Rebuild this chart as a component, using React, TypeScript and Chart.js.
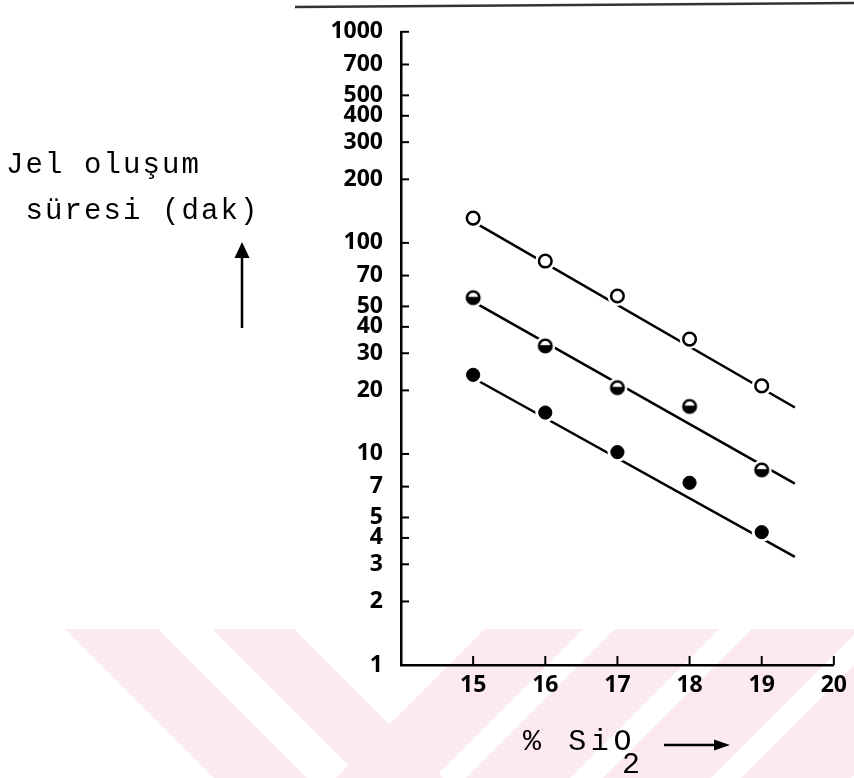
import React, { useEffect, useRef } from 'react';
import { Chart, registerables } from 'chart.js';

Chart.register(...registerables);

// ---- data ----
const SIO2_PERCENT = [15, 16, 17, 18, 19];
const OPEN_TIMES = [131, 82, 56, 35, 21];
const HALF_TIMES = [55, 32.5, 20.6, 16.8, 8.4];
const FILLED_TIMES = [23.7, 15.7, 10.2, 7.3, 4.26];

const FIT_SIO2 = [15, 19.46];
const OPEN_FIT = [126, 16.6];
const HALF_FIT = [52.7, 7.23];
const FILLED_FIT = [22.9, 3.25];

const Y_TICKS = [1, 2, 3, 4, 5, 7, 10, 20, 30, 40, 50, 70, 100, 200, 300, 400, 500, 700, 1000];
const X_TICKS = [15, 16, 17, 18, 19, 20];
const X_MIN = 14;
const X_MAX = 20;
const Y_MIN = 1;
const Y_MAX = 1000;

function pts(xs: number[], ys: number[]) {
  return xs.map((x, i) => ({ x, y: ys[i] }));
}

function makeHalfMarker() {
  const c = document.createElement('canvas');
  c.width = 18;
  c.height = 18;
  const g = c.getContext('2d') as CanvasRenderingContext2D;
  const cx = 9, cy = 9, r = 6.3;
  g.beginPath();
  g.arc(cx, cy, r, 0, Math.PI * 2);
  g.fillStyle = '#fff';
  g.fill();
  g.save();
  g.beginPath();
  g.arc(cx, cy, r, 0, Math.PI * 2);
  g.clip();
  g.fillStyle = '#000';
  g.fillRect(0, cy - 0.8, 18, 18);
  g.restore();
  g.beginPath();
  g.arc(cx, cy, r, 0, Math.PI * 2);
  g.lineWidth = 2.5;
  g.strokeStyle = '#000';
  g.stroke();
  return c;
}

const watermarkPlugin = {
  id: 'watermark',
  beforeDraw(chart: any) {
    const ctx = chart.ctx as CanvasRenderingContext2D;
    const top = 629;
    const bottom = 778;
    const d = bottom - top;
    const stripes: [number, number, number][] = [
      [65, 158, 1],
      [212, 294, 1],
      [485, 583, -1],
      [615, 719, -1],
      [752, 860, -1],
      [890, 1000, -1],
    ];
    ctx.save();
    ctx.fillStyle = '#fdeaee';
    stripes.forEach(([a, b, dir]) => {
      ctx.beginPath();
      ctx.moveTo(a, top);
      ctx.lineTo(b, top);
      ctx.lineTo(b + dir * d, bottom);
      ctx.lineTo(a + dir * d, bottom);
      ctx.closePath();
      ctx.fill();
    });
    ctx.restore();
  },
};

const decorPlugin = {
  id: 'decor',
  afterDraw(chart: any) {
    const ctx = chart.ctx as CanvasRenderingContext2D;
    const xs = chart.scales.x;
    const ys = chart.scales.y;
    const area = chart.chartArea;
    ctx.save();
    ctx.strokeStyle = '#000';
    ctx.fillStyle = '#000';
    ctx.lineWidth = 2;
    Y_TICKS.forEach((v) => {
      if (v === Y_MIN) return;
      const py = ys.getPixelForValue(v);
      ctx.beginPath();
      ctx.moveTo(area.left, py);
      ctx.lineTo(area.left + 8, py);
      ctx.stroke();
    });
    X_TICKS.forEach((v) => {
      const px = xs.getPixelForValue(v);
      ctx.beginPath();
      ctx.moveTo(px, area.bottom);
      ctx.lineTo(px, area.bottom - 9);
      ctx.stroke();
    });
    // y-title arrow
    ctx.lineWidth = 2.5;
    ctx.beginPath();
    ctx.moveTo(242, 255);
    ctx.lineTo(242, 328);
    ctx.stroke();
    ctx.beginPath();
    ctx.moveTo(242, 242);
    ctx.lineTo(234.5, 258);
    ctx.lineTo(249.5, 258);
    ctx.closePath();
    ctx.fill();
    // x-title arrow
    ctx.beginPath();
    ctx.moveTo(664, 745);
    ctx.lineTo(718, 745);
    ctx.stroke();
    ctx.beginPath();
    ctx.moveTo(730, 745);
    ctx.lineTo(714, 739.5);
    ctx.lineTo(714, 750.5);
    ctx.closePath();
    ctx.fill();
    // scanned top edge line
    ctx.strokeStyle = '#333';
    ctx.lineWidth = 2.5;
    ctx.beginPath();
    ctx.moveTo(295, 7);
    ctx.lineTo(854, 3);
    ctx.stroke();
    ctx.restore();
  },
};

const tickFont = { family: '"Open Sans"', size: 23, weight: 'bold' };

export default function App() {
  const ref = useRef<HTMLCanvasElement>(null);

  useEffect(() => {
    if (!ref.current) return;
    const half = makeHalfMarker();
    const allPoints = [
      ...pts(SIO2_PERCENT, OPEN_TIMES),
      ...pts(SIO2_PERCENT, HALF_TIMES),
      ...pts(SIO2_PERCENT, FILLED_TIMES),
    ];
    const fitLine = (data: { x: number; y: number }[]) => ({
      type: 'scatter' as const,
      data,
      showLine: true,
      borderColor: '#000',
      borderWidth: 2.5,
      pointRadius: 0,
      order: 3,
    });
    const chart = new Chart(ref.current, {
      type: 'scatter',
      data: {
        datasets: [
          fitLine(pts(FIT_SIO2, OPEN_FIT)),
          fitLine(pts(FIT_SIO2, HALF_FIT)),
          fitLine(pts(FIT_SIO2, FILLED_FIT)),
          {
            data: allPoints,
            pointRadius: 10,
            pointBackgroundColor: '#fff',
            pointBorderColor: 'rgba(0,0,0,0)',
            pointBorderWidth: 0,
            order: 2,
          },
          {
            data: pts(SIO2_PERCENT, OPEN_TIMES),
            pointStyle: 'circle',
            pointRadius: 6.3,
            pointBackgroundColor: '#fff',
            pointBorderColor: '#000',
            pointBorderWidth: 2.5,
            order: 1,
          },
          {
            data: pts(SIO2_PERCENT, HALF_TIMES),
            pointStyle: half,
            pointRadius: 7,
            order: 1,
          },
          {
            data: pts(SIO2_PERCENT, FILLED_TIMES),
            pointStyle: 'circle',
            pointRadius: 6.6,
            pointBackgroundColor: '#000',
            pointBorderColor: '#000',
            pointBorderWidth: 1,
            order: 1,
          },
        ] as any,
      },
      options: {
        responsive: false,
        animation: false,
        devicePixelRatio: 1,
        layout: { padding: { top: 26, right: 18, left: 0, bottom: 0 } },
        plugins: {
          legend: { display: false },
          tooltip: { enabled: false },
        },
        scales: {
          x: {
            type: 'linear',
            min: X_MIN,
            max: X_MAX,
            grid: { display: false, drawTicks: false },
            border: { display: true, color: '#000', width: 2.5 },
            ticks: {
              color: '#000',
              font: tickFont,
              padding: 7,
              autoSkip: false,
              maxRotation: 0,
              callback: (v: any) => String(v),
            },
            afterBuildTicks: (s: any) => {
              s.ticks = X_TICKS.map((v) => ({ value: v }));
            },
            afterFit: (s: any) => {
              s.height = 113;
            },
          },
          y: {
            type: 'logarithmic',
            min: Y_MIN,
            max: Y_MAX,
            grid: { display: false, drawTicks: false },
            border: { display: true, color: '#000', width: 2.5 },
            ticks: {
              color: '#000',
              font: tickFont,
              padding: 18,
              autoSkip: false,
              callback: (v: any) => String(v),
            },
            afterBuildTicks: (s: any) => {
              s.ticks = Y_TICKS.map((v) => ({ value: v }));
            },
            afterFit: (s: any) => {
              s.width = 401;
            },
          },
        },
      } as any,
      plugins: [watermarkPlugin, decorPlugin],
    });
    return () => chart.destroy();
  }, []);

  const typeFont: React.CSSProperties = {
    position: 'absolute',
    fontFamily: '"Liberation Mono", monospace',
    fontSize: 29,
    lineHeight: '29px',
    letterSpacing: '2.1px',
    whiteSpace: 'pre',
    color: '#000',
  };

  return (
    <div style={{ position: 'absolute', left: 0, top: 0, width: 854, height: 778, overflow: 'hidden', background: '#fff' }}>
      <canvas ref={ref} width={854} height={778} style={{ position: 'absolute', left: 0, top: 0, width: 854, height: 778 }} />
      <div style={{ ...typeFont, left: 6, top: 151 }}>Jel oluşum</div>
      <div style={{ ...typeFont, left: 6, top: 197 }}> süresi (dak)</div>
      <div style={{ ...typeFont, left: 523, top: 727, fontSize: 30, lineHeight: '30px', letterSpacing: '4.6px' }}>% SiO</div>
      <div style={{ ...typeFont, left: 622, top: 750, fontSize: 30, lineHeight: '30px' }}>2</div>
    </div>
  );
}
